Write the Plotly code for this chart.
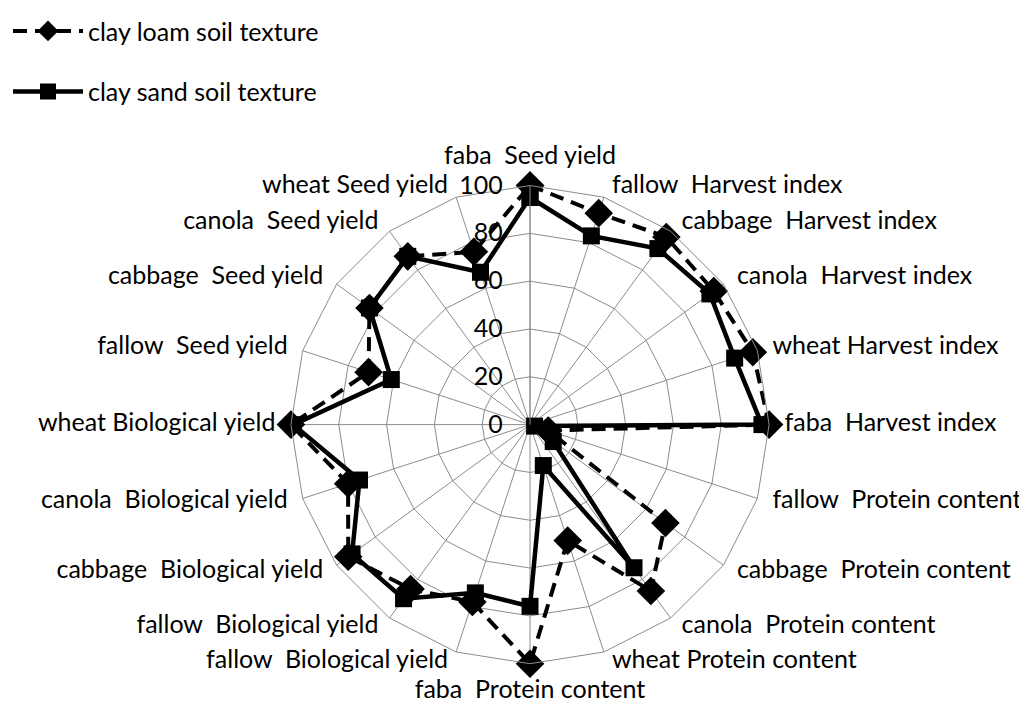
import plotly.graph_objects as go

categories = [
    "faba  Seed yield", "fallow  Harvest index", "cabbage  Harvest index",
    "canola  Harvest index", "wheat Harvest index", "faba  Harvest index",
    "fallow  Protein content", "cabbage  Protein content", "canola  Protein content",
    "wheat Protein content", "faba  Protein content", "fallow  Biological yield",
    "fallow  Biological yield ", "cabbage  Biological yield", "canola  Biological yield",
    "wheat Biological yield", "fallow  Seed yield", "cabbage  Seed yield",
    "canola  Seed yield", "wheat Seed yield",
]
clay_loam = [100, 93, 97, 95, 98, 100, 8, 70, 86, 51, 100, 78, 85, 94, 80, 100, 71, 83, 87, 76]
clay_sand = [95, 83, 91, 93, 90, 97, 2, 12, 74, 18, 76, 74, 90, 92, 75, 99, 61, 83, 87, 67]
radial_ticks = [0, 20, 40, 60, 80, 100]

FONT = "Lato"
GRID = "#8c8c8c"
FS = 25
R_MAX = 100
LABEL_SCALE = 1.1          # label overlay polar is 10% larger than the chart polar
LABEL_R = 104.5            # label radius, in chart units

# main polar placement (paper fractions)
CX, CY, HX, HY = 0.5083, 0.4165, 0.2376, 0.3465

def closed(vals):
    return list(vals) + [vals[0]]

n = len(categories)
label_pos = []
for i in range(n):
    if i == 0:
        label_pos.append("top center")
    elif i == n // 2:
        label_pos.append("bottom center")
    elif i < n // 2:
        label_pos.append("middle right")
    else:
        label_pos.append("middle left")

fig = go.Figure()
fig.add_trace(go.Scatterpolar(
    r=closed(clay_loam), theta=closed(categories),
    mode="lines+markers", name="clay loam soil texture", legendgroup="a",
    line=dict(color="black", width=4, dash="14px,8px"),
    marker=dict(symbol="diamond", size=22, color="black"),
))
fig.add_trace(go.Scatterpolar(
    r=closed(clay_sand), theta=closed(categories),
    mode="lines+markers", name="clay sand soil texture", legendgroup="b",
    line=dict(color="black", width=4.5),
    marker=dict(symbol="square", size=17, color="black"),
))
# category labels on a transparent, slightly larger overlay polar
fig.add_trace(go.Scatterpolar(
    r=[LABEL_R] * n, theta=categories, mode="markers+text", subplot="polar2",
    marker=dict(size=6, opacity=0, color="white"),
    text=[c.strip() for c in categories], textposition=label_pos,
    textfont=dict(size=FS, family=FONT, color="black"),
    cliponaxis=False, showlegend=False, hoverinfo="skip",
))

hidden_axis = dict(showgrid=False, showline=False, showticklabels=False, ticks="")

fig.update_layout(
    width=1027, height=704,
    margin=dict(l=0, r=0, t=0, b=0),
    paper_bgcolor="white", plot_bgcolor="white",
    font=dict(family=FONT, size=FS, color="black"),
    showlegend=True,
    legend=dict(x=0.0, y=1.02, xanchor="left", yanchor="top",
                tracegroupgap=25, itemwidth=70, font=dict(size=FS, family=FONT),
                bgcolor="rgba(0,0,0,0)"),
    polar=dict(
        domain=dict(x=[CX - HX, CX + HX], y=[CY - HY, CY + HY]),
        bgcolor="white",
        gridshape="linear",
        angularaxis=dict(
            type="category", direction="clockwise", rotation=90,
            categoryorder="array", categoryarray=categories,
            showgrid=True, gridcolor=GRID, gridwidth=1,
            showline=True, linecolor=GRID, linewidth=1,
            ticks="", showticklabels=False,
        ),
        radialaxis=dict(
            range=[0, R_MAX], tickvals=radial_ticks, angle=90,
            side="counterclockwise",
            showgrid=True, gridcolor=GRID, gridwidth=1,
            showline=True, linecolor=GRID, linewidth=1,
            ticks="outside", ticklen=18, tickcolor="rgba(0,0,0,0)",
            tickangle=90,
            tickfont=dict(size=FS, family=FONT, color="black"),
        ),
    ),
    polar2=dict(
        domain=dict(x=[CX - HX * LABEL_SCALE, CX + HX * LABEL_SCALE],
                    y=[CY - HY * LABEL_SCALE, CY + HY * LABEL_SCALE]),
        bgcolor="rgba(0,0,0,0)",
        angularaxis=dict(type="category", direction="clockwise", rotation=90,
                         categoryorder="array", categoryarray=categories,
                         **hidden_axis),
        radialaxis=dict(range=[0, R_MAX * LABEL_SCALE], visible=False, **hidden_axis),
    ),
)

fig.write_html("out.html")
